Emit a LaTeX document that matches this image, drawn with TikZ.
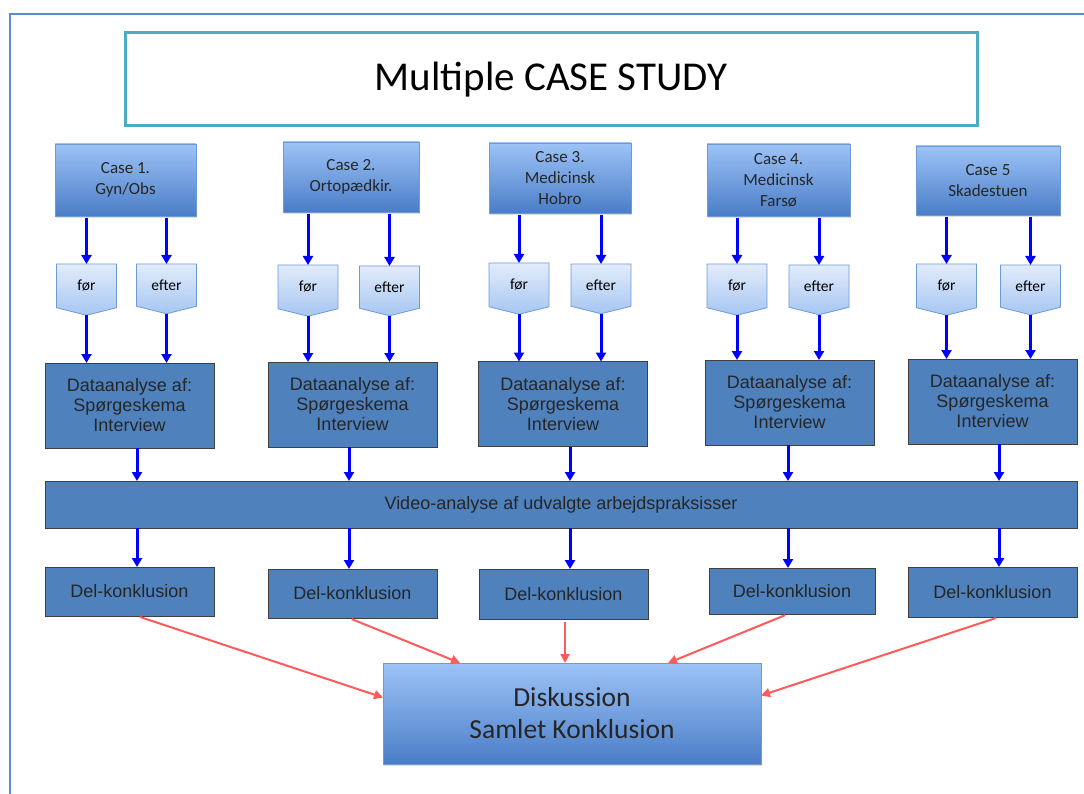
\documentclass[tikz,border=0pt]{standalone}
\usepackage{fontspec}
\setmainfont{Carlito}
\newfontfamily\arialfam{Liberation Sans}
\usepackage{tikz}
\usetikzlibrary{arrows.meta,shapes.symbols,shadows}
\definecolor{casetop}{HTML}{9DC3F7}
\definecolor{casebot}{HTML}{4A7DC7}
\definecolor{caseline}{HTML}{6E9AD4}
\definecolor{tagtop}{HTML}{E2ECFB}
\definecolor{tagbot}{HTML}{A6C6F2}
\definecolor{datafill}{HTML}{4F81BD}
\definecolor{titleline}{HTML}{4BACC6}
\definecolor{frameline}{HTML}{5B8BD0}
\definecolor{flowblue}{HTML}{0000FF}
\definecolor{flowred}{HTML}{FF5B5B}
\tikzset{every node/.style={inner sep=0pt,outer sep=0pt},
  casebox/.style={draw=caseline,line width=0.8pt,top color=casetop,bottom color=casebot,
    align=center,text=black!85,font=\fC,
    drop shadow={opacity=0.25,shadow xshift=1pt,shadow yshift=-2pt}},
  databox/.style={draw=black!75,line width=0.8pt,fill=datafill,align=center,text=black!85}}
\newcommand{\fT}{\fontsize{41}{48}\selectfont}
\newcommand{\fC}{\fontsize{17}{21}\selectfont}
\newcommand{\fP}{\fontsize{15.5}{18}\selectfont}
\newcommand{\fD}{\arialfam\fontsize{18}{20}\selectfont}
\newcommand{\fV}{\arialfam\fontsize{18}{20}\selectfont}
\newcommand{\fK}{\fontsize{27.5}{32}\selectfont}

\begin{document}
\begin{tikzpicture}[x=1pt,y=-1pt,
    tag/.style={shape=signal,signal to=south,signal from=nowhere,signal pointer angle=152,
      draw=caseline,line width=0.8pt,top color=tagtop,bottom color=tagbot,
      minimum width=60,minimum height=46,font=\fP,text=black,anchor=north},
    dana/.style={databox,font=\fD,minimum width=169,minimum height=85},
    delk/.style={databox,font=\fD,minimum width=169,minimum height=49},
    barr/.style={draw=flowblue,line width=3pt,-{Triangle[length=9pt,width=10pt]}},
    rarr/.style={draw=flowred,line width=2pt,shorten <=3pt,-{Triangle[length=9pt,width=9pt]}}]
  \clip (0,0) rectangle (1084,794);
  \fill[white] (0,0) rectangle (1084,794);
  \draw[frameline,line width=2pt] (10,14) rectangle (1100,810);

  % Title
  \node[draw=titleline,line width=3pt,minimum width=852,minimum height=93,font=\fT]
    (title) at (551,79.5) {Multiple CASE STUDY};

  % Cases
  \node[casebox,minimum width=141,minimum height=72] (c1) at (125.5,180) {Case 1.\\Gyn/Obs};
  \node[casebox,minimum width=136,minimum height=70] (c2) at (351,177) {Case 2.\\Ortopædkir.};
  \node[casebox,minimum width=142,minimum height=70] (c3) at (560,178) {Case 3.\\Medicinsk\\Hobro};
  \node[casebox,minimum width=143,minimum height=72] (c4) at (778.5,180) {Case 4.\\Medicinsk\\Farsø};
  \node[casebox,minimum width=144,minimum height=69] (c5) at (988,180.5) {Case 5\\Skadestuen};

  % før / efter
  \node[tag] (b1) at (86.5,264) {før};
  \node[tag] (a1) at (166.5,264) {efter};
  \node[tag] (b2) at (308,265) {før};
  \node[tag] (a2) at (389.5,266) {efter};
  \node[tag] (b3) at (519,263) {før};
  \node[tag] (a3) at (601,264) {efter};
  \node[tag] (b4) at (737,264) {før};
  \node[tag] (a4) at (819,265) {efter};
  \node[tag] (b5) at (946.5,264) {før};
  \node[tag] (a5) at (1030.5,265) {efter};

  % Dataanalyse
  \node[dana] (d1) at (129.5,405.5) {Dataanalyse af:\\Spørgeskema\\Interview};
  \node[dana] (d2) at (352.5,404.5) {Dataanalyse af:\\Spørgeskema\\Interview};
  \node[dana] (d3) at (563,404) {Dataanalyse af:\\Spørgeskema\\Interview};
  \node[dana] (d4) at (789.5,402.5) {Dataanalyse af:\\Spørgeskema\\Interview};
  \node[dana] (d5) at (992.5,401.5) {Dataanalyse af:\\Spørgeskema\\Interview};

  \node[databox,font=\fV,minimum width=1032,minimum height=47] (vid) at (561,504.5)
    {Video-analyse af udvalgte arbejdspraksisser};

  % Del-konklusion
  \node[delk] (k1) at (129.5,591.5) {Del-konklusion};
  \node[delk] (k2) at (352.5,593.5) {Del-konklusion};
  \node[delk,minimum height=50] (k3) at (563.5,594) {Del-konklusion};
  \node[delk,minimum width=166,minimum height=46] (k4) at (792,591) {Del-konklusion};
  \node[delk,minimum height=50] (k5) at (992.5,592) {Del-konklusion};

  \node[casebox,font=\fK,minimum width=378,minimum height=101] (disk) at (572,713.5)
    {Diskussion\\Samlet Konklusion};

  % columns of the lower arrows
  \coordinate (x1) at (137,0);
  \coordinate (x2) at (349,0);
  \coordinate (x3) at (570,0);
  \coordinate (x4) at (788,0);
  \coordinate (x5) at (999,0);

  \foreach \i in {1,...,5} {
    \draw[barr,shorten <=2pt] (c\i.south -| b\i.north) -- (b\i.north);
    \draw[barr,shorten <=2pt] (c\i.south -| a\i.north) -- (a\i.north);
    \draw[barr] (b\i.south) -- (b\i.south |- d\i.north);
    \draw[barr] (a\i.south) -- (a\i.south |- d\i.north);
    \draw[barr] (d\i.south -| x\i) -- (vid.north -| x\i);
    \draw[barr] (vid.south -| x\i) -- (k\i.north -| x\i);
  }

  % to the common conclusion
  \draw[rarr] (k1.south -| x1) -- ([yshift=16pt]disk.west);
  \draw[rarr] (k2.south -| x2) -- ([xshift=-112pt]disk.north);
  \draw[rarr] (k3.south -| disk.north) ++(-7,0) coordinate (r3) -- (r3 |- disk.north);
  \draw[rarr] (k4.south -| x4) -- ([xshift=96pt]disk.north);
  \draw[rarr] (k5.south -| x5) -- ([yshift=18pt]disk.east);
\end{tikzpicture}
\end{document}
